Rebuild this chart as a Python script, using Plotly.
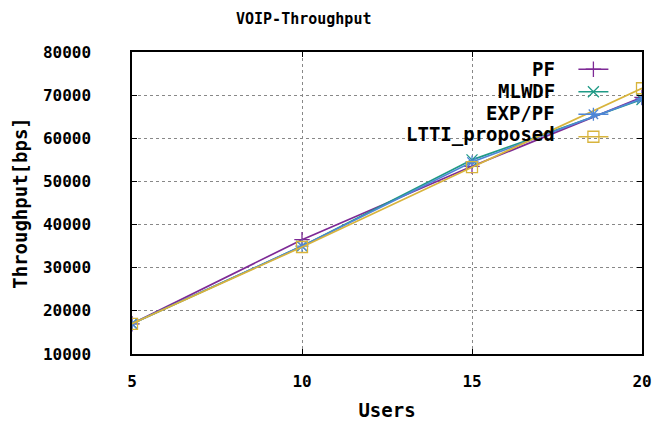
import plotly.graph_objects as go

users = [5, 10, 15, 20]
pf = [17000, 36500, 53500, 69500]
mlwdf = [17000, 35000, 55000, 69000]
exp_pf = [17000, 35000, 54500, 69200]
ltti = [17000, 34800, 53300, 71600]

names = ["PF", "MLWDF", "EXP/PF", "LTTI_proposed"]
series = [pf, mlwdf, exp_pf, ltti]
colors = ["#7e2a96", "#1f9a86", "#4f86d6", "#d8b43c"]
symbols = ["cross-thin-open", "x-thin-open", "asterisk-open", "square-open"]

W, H = 665, 425
OFF = 8  # page body margin
L, R, T, B = 129, 642, 52, 354  # target plot area in page pixels
FONT = "DejaVu Sans Mono"

fig = go.Figure()
for n, s, c, m in zip(names, series, colors, symbols):
    fig.add_trace(go.Scatter(
        x=users, y=s, mode="lines+markers", name="",
        line=dict(color=c, width=1.7),
        marker=dict(symbol=m, size=11, color=c, line=dict(color=c, width=1.3)),
    ))

def px_x(p):
    return (p - L) / (R - L)

def px_y(p):
    return (B - p) / (B - T)

annotations = [
    dict(text="<b>VOIP-Throughput</b>", x=px_x(302), y=px_y(19), xref="paper", yref="paper",
         xanchor="center", yanchor="middle", showarrow=False,
         font=dict(family=FONT, size=15, color="black")),
]
label_y = [69, 91, 113, 135]
for n, yy in zip(names, label_y):
    annotations.append(dict(text="<b>%s</b>" % n, x=px_x(557), y=px_y(yy), xref="paper", yref="paper",
                            xanchor="right", yanchor="middle", showarrow=False,
                            font=dict(family=FONT, size=19, color="black")))

fig.update_layout(
    width=W, height=H,
    margin=dict(l=L - OFF, r=W - (R - OFF), t=T - OFF, b=H - (B - OFF), pad=0),
    paper_bgcolor="white", plot_bgcolor="white",
    font=dict(family=FONT, size=15, color="black"),
    showlegend=True,
    legend=dict(x=px_x(573), y=px_y(53), xanchor="left", yanchor="top",
                bgcolor="rgba(0,0,0,0)", borderwidth=0, font=dict(size=15),
                tracegroupgap=0, itemwidth=30),
    annotations=annotations,
    shapes=[dict(type="rect", xref="paper", yref="paper", x0=px_x(403), x1=px_x(622),
                 y0=px_y(146), y1=px_y(60), fillcolor="white", line=dict(width=0), layer="between")],
)

fig.update_xaxes(
    range=[5, 20], tickvals=users, ticktext=["<b>%d</b>" % u for u in users],
    tickfont=dict(family=FONT, size=16),
    showline=True, linecolor="black", linewidth=1.5, mirror="allticks",
    ticks="inside", ticklen=5, tickcolor="black", ticklabelstandoff=12,
    showgrid=True, gridcolor="#888888", griddash="dot", gridwidth=1,
    zeroline=False,
    title=dict(text="<b>Users</b>", font=dict(family=FONT, size=19), standoff=14),
)
yt = [10000, 20000, 30000, 40000, 50000, 60000, 70000, 80000]
fig.update_yaxes(
    range=[10000, 80000], tickvals=yt, ticktext=["<b>%d</b>" % v for v in yt],
    tickfont=dict(family=FONT, size=16),
    showline=True, linecolor="black", linewidth=1.5, mirror="allticks",
    ticks="inside", ticklen=5, tickcolor="black", ticklabelstandoff=36,
    showgrid=True, gridcolor="#888888", griddash="dot", gridwidth=1,
    zeroline=False,
    title=dict(text="<b>Throughput[bps]</b>", font=dict(family=FONT, size=19), standoff=10),
)

fig.write_html("out.html")
